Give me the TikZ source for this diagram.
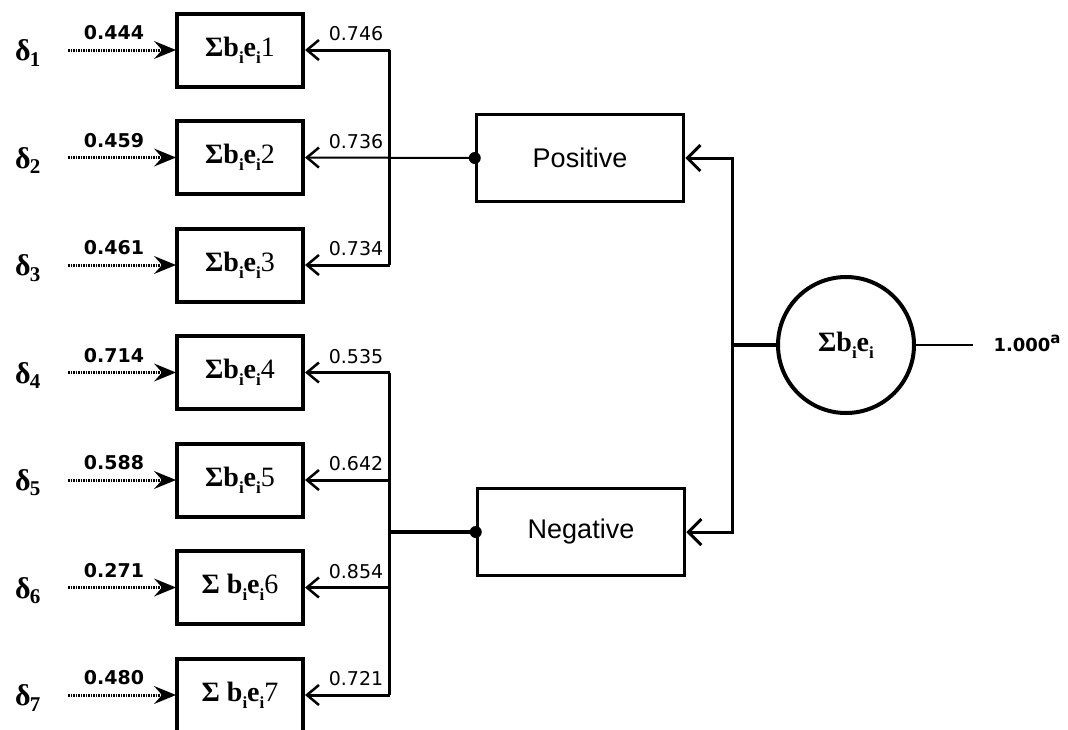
\documentclass[tikz,border=0pt]{standalone}
\usepackage{fontspec}
\setmainfont{Liberation Serif}
\newfontfamily\labfont{DejaVu Sans}
\newfontfamily\boxfont{Liberation Sans}
\usetikzlibrary{arrows.meta}
\newcommand\subi{\raisebox{-0.25em}{\fontsize{17}{17}\selectfont i}}
\tikzset{
	sbox/.style={draw,line width=4pt,minimum width=126pt,minimum height=73pt,inner sep=0pt,
		font=\fontsize{28}{30}\selectfont},
	dimbox/.style={draw,line width=3.5pt,minimum width=207pt,minimum height=87pt,inner sep=0pt,
		font=\boxfont\fontsize{27}{29}\selectfont},
	dlabel/.style={font=\bfseries\fontsize{30}{32}\selectfont},
	inlabel/.style={font=\labfont\bfseries\fontsize{19}{21}\selectfont},
	outlabel/.style={font=\labfont\fontsize{19}{21}\selectfont},
	dotarrow/.style={line width=3pt,dash pattern=on 1.5pt off 1pt,
		-{Stealth[length=22pt,width=18pt,inset=8pt,line width=0pt,sep=-1pt]}},
	loadarrow/.style={line width=3pt,-{Straight Barb[length=12pt,width=20pt,line width=2.5pt]}},
	dimarrow/.style={line width=3pt,-{Straight Barb[length=13pt,width=26pt,line width=3pt]}}
}
\begin{document}
\begin{tikzpicture}[x=1pt,y=-1pt]
	\clip (0,0) rectangle (1068,729);
	\fill[white] (0,0) rectangle (1068,729);
	\foreach \i/\y/\dl/\rl in {1/50/0.444/0.746,2/157.5/0.459/0.736,3/265/0.461/0.734,
		4/372.5/0.714/0.535,5/480/0.588/0.642,6/587.5/0.271/0.854,7/695/0.480/0.721}{
		\node[sbox] (b\i) at (240,\y) {{\bfseries Σ\ifnum\i>5\ \fi b\subi e\subi}\i};
		\node[dlabel] (d\i) at (28,\y+3) {δ\kern-1pt\textsubscript{\i}};
		\coordinate (s\i) at (68,\y);
		\coordinate (t\i) at (389.5,\y);
		\draw[dotarrow] (s\i) -- (b\i.west);
		\node[inlabel] at (114,\y-17) {\dl};
		\node[outlabel] at (356,\y-16) {\rl};
	}
	\node[dimbox] (pos) at (580,158) {Positive};
	\node[dimbox] (neg) at (581,532) {Negative};
	\node[draw,circle,line width=4pt,minimum size=136pt,inner sep=0pt,
		font=\bfseries\fontsize{28}{30}\selectfont] (sum) at (846,345) {Σb\subi e\subi};
	\coordinate (nb) at (389.5,532);
	\draw[line width=2.5pt] (t1) -- (t3);
	\draw[line width=3.5pt] (t4) -- (t7);
	\foreach \i in {1,3,4,5,6,7}
		\draw[loadarrow] (t\i) -- (b\i.east);
	\draw[loadarrow,line width=2pt] (pos.west) -- (b2.east);
	\draw[line width=3.5pt] (neg.west) -- (nb);
	\fill (pos.west) circle (6pt);
	\fill (neg.west) circle (6pt);
	\coordinate (jn) at (732,345);
	\draw[dimarrow] (jn) |- (pos.east);
	\draw[dimarrow] (jn) |- (neg.east);
	\draw[line width=4.5pt] (jn) -- (sum.west);
	\draw[line width=2.5pt] (sum.east) -- ++(57,0) coordinate (oe);
	\node[font=\labfont\bfseries\fontsize{18}{20}\selectfont,anchor=west] (r) at (990,343)
		{1.000\raisebox{0.45em}{\fontsize{15}{15}\selectfont a}};
\end{tikzpicture}
\end{document}
